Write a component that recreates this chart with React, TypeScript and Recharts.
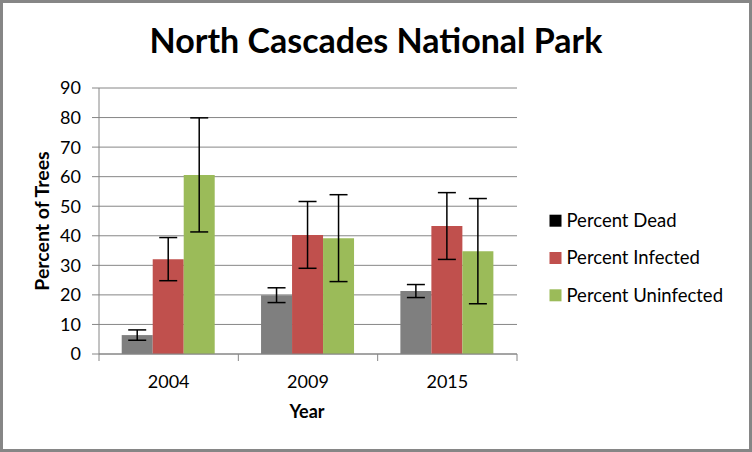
import React from 'react';
import { BarChart, Bar, XAxis, YAxis, CartesianGrid, ErrorBar } from 'recharts';

const years = ['2004', '2009', '2015'];
const dead = [6.4, 19.9, 21.3];
const deadErr = [1.75, 2.5, 2.2];
const infected = [32.1, 40.3, 43.3];
const infectedErr = [7.3, 11.3, 11.3];
const uninfected = [60.6, 39.2, 34.8];
const uninfectedErr = [19.3, 14.7, 17.8];
const yTicks = [0, 10, 20, 30, 40, 50, 60, 70, 80, 90];

const seriesNames = ['Percent Dead', 'Percent Infected', 'Percent Uninfected'];
const barColors = ['#7F7F7F', '#C0504D', '#9BBB59'];
const legendColors = ['#000000', '#C0504D', '#9BBB59'];

const data = years.map((y, i) => ({
  year: y,
  dead: dead[i],
  deadErr: deadErr[i],
  infected: infected[i],
  infectedErr: infectedErr[i],
  uninfected: uninfected[i],
  uninfectedErr: uninfectedErr[i],
}));

const FONT = 'Lato, "Open Sans", sans-serif';
const GRID = '#868686';
const X_TICK_SIZE = 7;
const X_TICK_MARGIN = 14;

const CategoryTick = (p: any) => {
  const { x, y, payload, index, visibleTicksCount } = p;
  const half = payload.offset || 0;
  const y0 = y - X_TICK_SIZE - X_TICK_MARGIN;
  const isLast = index === visibleTicksCount - 1;
  return (
    <g>
      <line x1={x - half} x2={x - half} y1={y0} y2={y0 + X_TICK_SIZE} stroke={GRID} />
      {isLast && <line x1={x + half} x2={x + half} y1={y0} y2={y0 + X_TICK_SIZE} stroke={GRID} />}
      <text x={x} y={y} dy="0.71em" textAnchor="middle" fontFamily={FONT} fontSize={18} fill="#000">
        {payload.value}
      </text>
    </g>
  );
};

export default function App() {
  return (
    <div style={{ position: 'absolute', left: 0, top: 0, width: 752, height: 452, background: '#fff', fontFamily: FONT }}>
      <BarChart
        width={752}
        height={452}
        data={data}
        margin={{ top: 88, right: 235, bottom: 18, left: 39 }}
        barCategoryGap="16.3%"
        barGap={0}
      >
        <CartesianGrid vertical={false} stroke={GRID} strokeWidth={1} />
        <XAxis dataKey="year" height={80} tickLine={false} axisLine={{ stroke: GRID }}
          tickSize={X_TICK_SIZE} tickMargin={X_TICK_MARGIN}
          tick={<CategoryTick />}
          interval={0}
          label={{
            content: (p: any) => (
              <text x={p.viewBox.x + p.viewBox.width / 2 - 1} y={p.viewBox.y + 64} textAnchor="middle"
                fontFamily={FONT} fontWeight="bold" fontSize={18} fill="#000">Year</text>
            ),
          }}
        />
        <YAxis domain={[0, 90]} ticks={yTicks} width={60} tickSize={7} tickMargin={11}
          axisLine={{ stroke: GRID }} tickLine={{ stroke: GRID }}
          tick={{ fill: '#000', fontSize: 18, fontFamily: FONT }}
          label={{
            content: (p: any) => {
              const cx = p.viewBox.x + 2;
              const cy = p.viewBox.y + p.viewBox.height / 2;
              return (
                <text x={cx} y={cy} transform={`rotate(-90 ${cx} ${cy})`} textAnchor="middle" dominantBaseline="central"
                  fontFamily={FONT} fontWeight="bold" fontSize={19.5} fill="#000">Percent of Trees</text>
              );
            },
          }}
        />
        <Bar dataKey="dead" name={seriesNames[0]} fill={barColors[0]} isAnimationActive={false}>
          <ErrorBar dataKey="deadErr" width={9} strokeWidth={1.5} stroke="#000" />
        </Bar>
        <Bar dataKey="infected" name={seriesNames[1]} fill={barColors[1]} isAnimationActive={false}>
          <ErrorBar dataKey="infectedErr" width={9} strokeWidth={1.5} stroke="#000" />
        </Bar>
        <Bar dataKey="uninfected" name={seriesNames[2]} fill={barColors[2]} isAnimationActive={false}>
          <ErrorBar dataKey="uninfectedErr" width={9} strokeWidth={1.5} stroke="#000" />
        </Bar>
      </BarChart>
      <svg width={752} height={452} style={{ position: 'absolute', left: 0, top: 0, pointerEvents: 'none' }}>
        <text x={376} y={53} textAnchor="middle" fontFamily={FONT} fontWeight="bold" fontSize={34} fill="#000">
          North Cascades National Park
        </text>
        {seriesNames.map((n, i) => (
          <g key={n}>
            <rect x={549.5} y={214.7 + i * 37.3} width={12} height={12} fill={legendColors[i]} />
            <text x={566.5} y={227 + i * 37.3} fontFamily={FONT} fontSize={18.5} fill="#000">{n}</text>
          </g>
        ))}
      </svg>
      <div style={{ position: 'absolute', left: 0, top: 0, width: 752, height: 452, boxSizing: 'border-box', border: '3px solid #868686', pointerEvents: 'none' }} />
    </div>
  );
}
